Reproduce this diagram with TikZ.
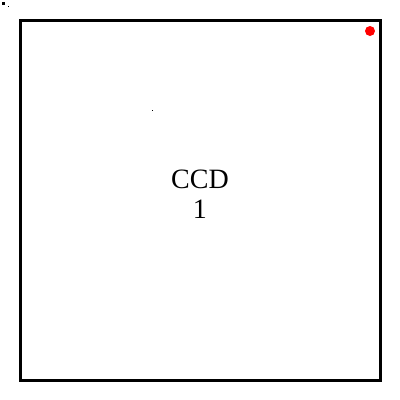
\documentclass[tikz,border=0pt]{standalone}
\usepackage{fontspec}
\setmainfont{Liberation Serif}
\begin{document}
\begin{tikzpicture}[x=1pt,y=-1pt,
  frame/.style={draw=black,line width=3pt},
  label/.style={font=\fontsize{28}{30}\selectfont,align=center,inner sep=0pt}]
\useasboundingbox (0,0) rectangle (400,400);
\node[frame,minimum width=360pt,minimum height=360pt,inner sep=0pt] (ccd) at (200,200) {};
\node[label] (txt) at (200,194) {CCD\\1};
\fill[red] (370,31) circle (5pt);
\fill[black] (2,2) rectangle (4.5,4.5);
\fill[black] (7.5,6) rectangle (8.5,7);
\fill[black] (151.5,109.5) rectangle (152.5,110.5);
\end{tikzpicture}
\end{document}
